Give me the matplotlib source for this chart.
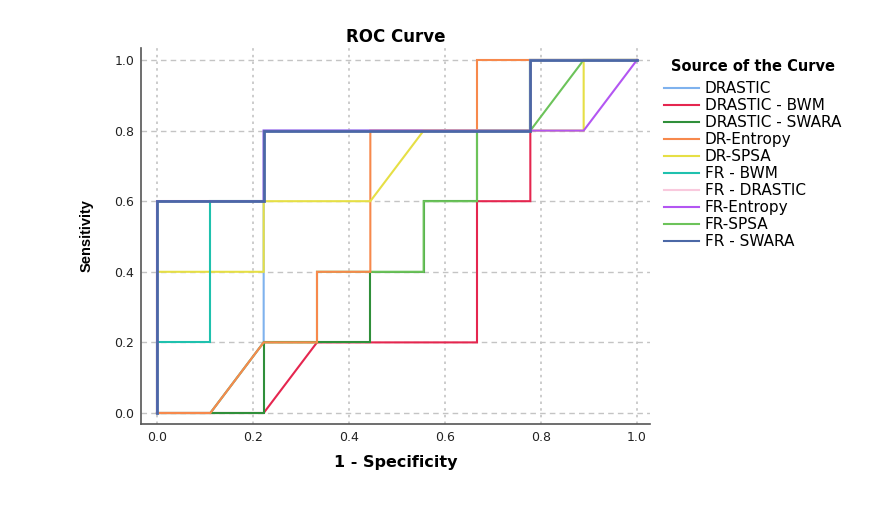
import matplotlib
matplotlib.use("Agg")
import matplotlib.pyplot as plt

# ---- data (1 - specificity, sensitivity) ----
n = 9.0
names = ["DRASTIC", "DRASTIC - BWM", "DRASTIC - SWARA", "DR-Entropy", "DR-SPSA",
         "FR - BWM", "FR - DRASTIC", "FR-Entropy", "FR-SPSA", "FR - SWARA"]
colors = ["#7fb2ee", "#e5264f", "#2f8f3a", "#f7894c", "#e6df45",
          "#1fc1ae", "#f9c9dd", "#b356f2", "#6cc35a", "#4b68a6"]

drastic_x = [0, 1/n, 2/n, 2/n, 2/n, 7/n, 7/n, 1]
drastic_y = [0, 0, 0.2, 0.6, 0.8, 0.8, 1.0, 1.0]
dr_bwm_x = [0, 2/n, 3/n, 6/n, 6/n, 7/n, 7/n, 1]
dr_bwm_y = [0, 0, 0.2, 0.2, 0.6, 0.6, 1.0, 1.0]
dr_swara_x = [0, 2/n, 2/n, 4/n, 4/n, 5/n, 5/n, 6/n, 6/n, 7/n, 7/n, 1]
dr_swara_y = [0, 0, 0.2, 0.2, 0.4, 0.4, 0.6, 0.6, 0.8, 0.8, 1.0, 1.0]
dr_entropy_x = [0, 1/n, 2/n, 3/n, 3/n, 4/n, 4/n, 6/n, 6/n, 1]
dr_entropy_y = [0, 0, 0.2, 0.2, 0.4, 0.4, 0.8, 0.8, 1.0, 1.0]
dr_spsa_x = [0, 0, 2/n, 2/n, 4/n, 5/n, 8/n, 8/n, 1]
dr_spsa_y = [0, 0.4, 0.4, 0.6, 0.6, 0.8, 0.8, 1.0, 1.0]
fr_bwm_x = [0, 0, 1/n, 1/n, 2/n, 2/n, 7/n, 7/n, 1]
fr_bwm_y = [0, 0.2, 0.2, 0.6, 0.6, 0.8, 0.8, 1.0, 1.0]
fr_drastic_x = [0, 0, 2/n, 2/n, 7/n, 7/n, 1]
fr_drastic_y = [0, 0.6, 0.6, 0.8, 0.8, 1.0, 1.0]
fr_entropy_x = [0, 0, 2/n, 2/n, 8/n, 1]
fr_entropy_y = [0, 0.6, 0.6, 0.8, 0.8, 1.0]
fr_spsa_x = [0, 1/n, 2/n, 3/n, 3/n, 5/n, 5/n, 6/n, 6/n, 7/n, 8/n, 1]
fr_spsa_y = [0, 0, 0.2, 0.2, 0.4, 0.4, 0.6, 0.6, 0.8, 0.8, 1.0, 1.0]
fr_swara_x = [0, 0, 2/n, 2/n, 7/n, 7/n, 1]
fr_swara_y = [0, 0.6, 0.6, 0.8, 0.8, 1.0, 1.0]

xs = [drastic_x, dr_bwm_x, dr_swara_x, dr_entropy_x, dr_spsa_x,
      fr_bwm_x, fr_drastic_x, fr_entropy_x, fr_spsa_x, fr_swara_x]
ys = [drastic_y, dr_bwm_y, dr_swara_y, dr_entropy_y, dr_spsa_y,
      fr_bwm_y, fr_drastic_y, fr_entropy_y, fr_spsa_y, fr_swara_y]
zorders = [2.0, 2.1, 2.2, 2.6, 2.7, 2.8, 2.9, 3.0, 2.4, 3.2]
widths = [1.5, 1.5, 1.5, 1.5, 1.5, 1.5, 1.5, 1.5, 1.5, 2.0]

ticks = [0.0, 0.2, 0.4, 0.6, 0.8, 1.0]
tick_labels = ["0.0", "0.2", "0.4", "0.6", "0.8", "1.0"]

plt.rcParams["font.family"] = ["DejaVu Sans"]

fig = plt.figure(figsize=(8.86, 5.05), dpi=100)
ax = fig.add_axes([141/886, 1 - 424/505, (650 - 141)/886, (424 - 48)/505])

for x, y, c, lab, z, w in zip(xs, ys, colors, names, zorders, widths):
    ax.plot(x, y, color=c, lw=w, label=lab, zorder=z, solid_joinstyle="miter")

ax.set_xlim(-16/480, 493/480)
ax.set_ylim(-11/353, 1 + 12/353)
ax.set_xticks(ticks)
ax.set_xticklabels(tick_labels)
ax.set_yticks(ticks)
ax.set_yticklabels(tick_labels)
ax.tick_params(length=0, labelsize=9, colors="#222222", pad=5)

for x in ticks:
    ax.axvline(x, color="#c4c4c4", lw=1.2, ls=(0, (1.5, 2.5)), zorder=1)
for y in ticks:
    ax.axhline(y, color="#c4c4c4", lw=1.0, ls=(0, (4, 3)), zorder=1)

for s in ["top", "right"]:
    ax.spines[s].set_visible(False)
for s in ["left", "bottom"]:
    ax.spines[s].set_color("#555555")
    ax.spines[s].set_linewidth(1.2)

ax.set_title("ROC Curve", fontsize=12, fontweight="bold", pad=4)
ax.set_xlabel("1 - Specificity", fontsize=11.5, fontweight="bold", labelpad=8)
ax.set_ylabel("Sensitivity", fontsize=10.5, fontweight="bold", labelpad=15,
              family=["Liberation Sans", "DejaVu Sans"])

handles, labels = ax.get_legend_handles_labels()
leg = fig.legend(handles, labels, loc="upper left", bbox_to_anchor=(658/886, 1 - 53/505),
                 frameon=False, fontsize=11, title="Source of the Curve",
                 title_fontproperties={"weight": "bold", "size": 10.5},
                 handlelength=2.3, handletextpad=0.35, labelspacing=0.13,
                 borderaxespad=0, alignment="center")
leg._legend_box.sep = 5
for h in leg.get_lines():
    h.set_linewidth(1.5)

fig.savefig("out.png", dpi=100)
